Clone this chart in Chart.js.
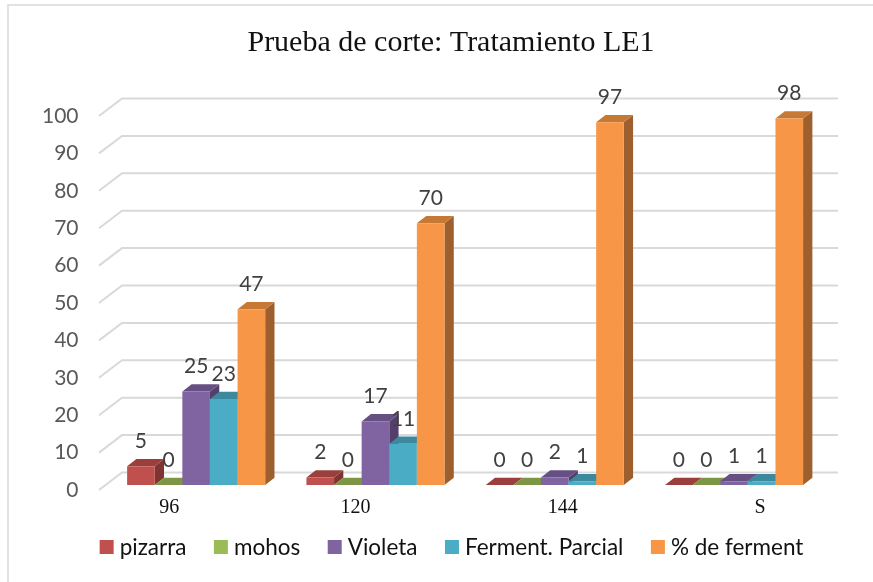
<!DOCTYPE html>
<html><head><meta charset="utf-8">
<style>html,body{margin:0;padding:0;background:#fff}#w{width:873px;height:582px;position:relative}</style>
<script src="https://cdn.jsdelivr.net/npm/chart.js@4"></script>
</head><body><div id="w"><canvas id="c" width="873" height="582"></canvas></div>
<script>
const categories = ['96', '120', '144', 'S'];
const pizarra = [5, 2, 0, 0];
const mohos = [0, 0, 0, 0];
const violeta = [25, 17, 2, 1];
const fermentParcial = [23, 11, 1, 1];
const pctFerment = [47, 70, 97, 98];
const yTicks = [0,10,20,30,40,50,60,70,80,90,100];
const seriesNames = ['pizarra','mohos','Violeta','Ferment. Parcial','% de ferment'];
const frontColors = ['#C0504D','#9BBB59','#8064A2','#4BACC6','#F79646'];
const topColors = ['#9A3F3C','#7C9646','#664F82','#3C899E','#C67835'];
const sideColors = ['#7F3432','#667B3A','#543F6B','#317183','#9D5F2D'];
const catLabelShift = [-27, -20, 8, 26];
const DX = 9.3, DY = 7.3;

const threeD = {
  id: 'threeD',
  afterLayout(chart) { chart.scales.y.left = 20; }, // room for the tick labels, which the scale clips to its box
  beforeDraw(chart) {
    const c = chart.ctx; c.save();
    c.strokeStyle = '#d9d9d9'; c.lineWidth = 1.5;
    c.beginPath(); c.moveTo(8, 582); c.lineTo(8, 5); c.lineTo(873, 5); c.stroke();
    c.restore();
  },
  beforeDatasetsDraw(chart) {
    const c = chart.ctx, a = chart.chartArea, y = chart.scales.y;
    c.save(); c.strokeStyle = '#d9d9d9'; c.lineWidth = 2;
    yTicks.forEach(v => {
      const p = y.getPixelForValue(v);
      c.beginPath(); c.moveTo(a.left - 7.5, p + 5); c.lineTo(a.left + 15.5, p - 12.5); c.lineTo(a.right + 14.3, p - 12.5); c.stroke();
    });
    c.restore();
  },
  beforeDatasetDraw() { return false; },
  afterDatasetsDraw(chart) {
    const c = chart.ctx;
    chart.data.datasets.forEach((ds, i) => {
      chart.getDatasetMeta(i).data.forEach(b => {
        const l = b.x - b.width / 2, r = b.x + b.width / 2, t = b.y, bo = b.base;
        c.save();
        c.fillStyle = sideColors[i];
        c.beginPath(); c.moveTo(r, t); c.lineTo(r + DX, t - DY); c.lineTo(r + DX, bo - DY); c.lineTo(r, bo); c.closePath(); c.fill();
        c.fillStyle = topColors[i];
        c.beginPath(); c.moveTo(l, t); c.lineTo(l + DX, t - DY); c.lineTo(r + DX, t - DY); c.lineTo(r, t); c.closePath(); c.fill();
        c.restore();
        b.draw(c);
      });
    });
    c.save();
    c.fillStyle = '#404040'; c.font = '21px Lato'; c.textAlign = 'center'; c.textBaseline = 'middle';
    chart.data.datasets.forEach((ds, i) => {
      chart.getDatasetMeta(i).data.forEach((b, j) => {
        c.fillText(String(ds.data[j]), b.x, b.y - 25);
      });
    });
    const x = chart.scales.x;
    c.fillStyle = '#111'; c.font = '20px "Liberation Serif"';
    categories.forEach((lab, j) => c.fillText(x.getLabelForValue(j), x.getPixelForTick(j) + catLabelShift[j], 508));
    // legend: swatch, small gap, name, wider gap, centred under the plot
    c.font = '22.5px Lato'; c.textAlign = 'left'; c.fillStyle = '#111';
    const sw = 14, tg = 6, ig = 27.5;
    const widths = seriesNames.map(n => sw + tg + c.measureText(n).width);
    const total = widths.reduce((s, w) => s + w, 0) + ig * (widths.length - 1);
    let lx = 451.5 - total / 2;
    seriesNames.forEach((n, i) => {
      c.fillStyle = frontColors[i]; c.fillRect(lx, 540, sw, sw);
      c.fillStyle = '#111'; c.fillText(n, lx + sw + tg, 548);
      lx += widths[i] + ig;
    });
    c.restore();
  }
};

new Chart(document.getElementById('c'), {
  type: 'bar',
  plugins: [threeD],
  data: {
    labels: categories,
    datasets: [pizarra, mohos, violeta, fermentParcial, pctFerment].map((d, i) => ({
      label: seriesNames[i], data: d, backgroundColor: frontColors[i], borderWidth: 0,
      barPercentage: 1, categoryPercentage: 0.77
    }))
  },
  options: {
    responsive: false, animation: false,
    layout: { padding: { left: 78.3, right: 49.3, top: 25, bottom: 73 } },
    plugins: {
      title: { display: true, text: 'Prueba de corte: Tratamiento LE1', color: '#111',
        font: { family: '"Liberation Serif"', size: 30, weight: 'normal' }, padding: { top: 0, bottom: 50 } },
      legend: { display: false },
      tooltip: { enabled: false }
    },
    scales: {
      x: { grid: { display: false }, border: { display: false }, ticks: { display: false },
        afterFit(s) { s.height = 24; } },
      y: { min: 0, max: 100, afterBuildTicks(s) { s.ticks = yTicks.map(v => ({ value: v })); },
        grid: { display: false }, border: { display: false },
        ticks: { color: '#595959', font: { family: 'Lato', size: 21 }, padding: 20, labelOffset: 5 },
        afterFit(s) { s.width = 28.2; } }
    }
  }
});
</script></body></html>
